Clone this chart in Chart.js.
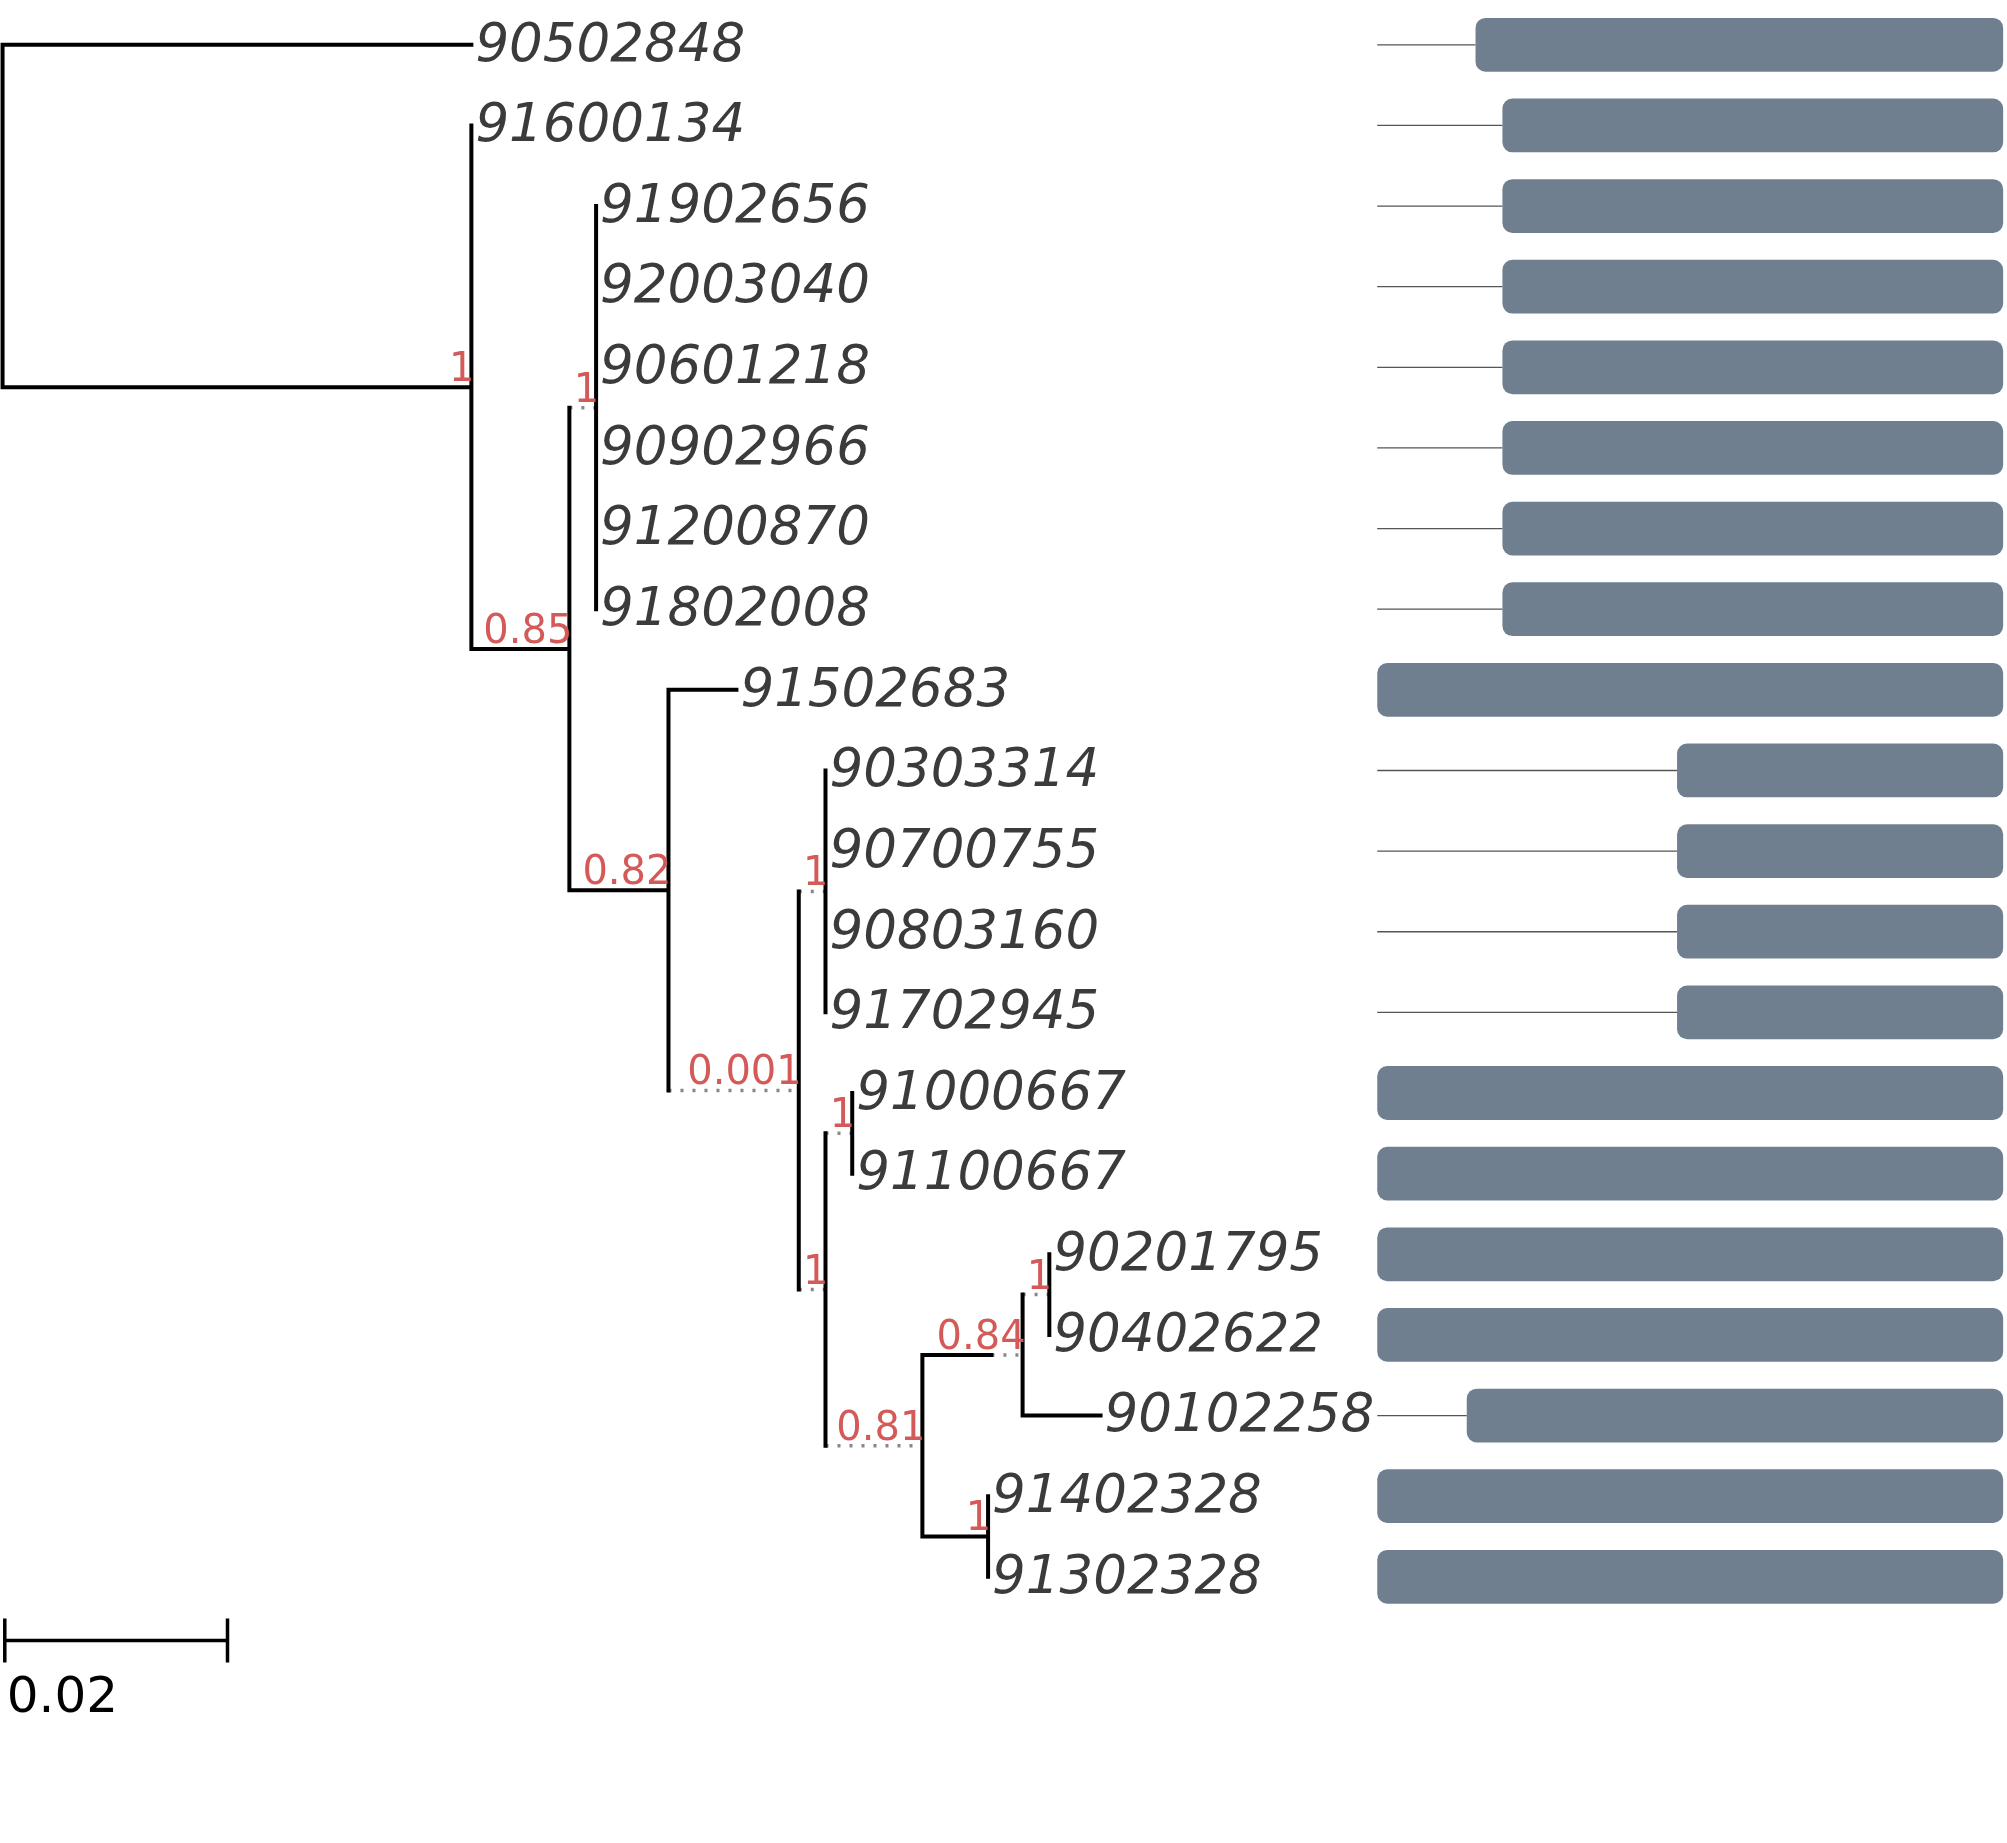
<!DOCTYPE html>
<html>
<head>
<meta charset="utf-8">
<script src="https://cdn.jsdelivr.net/npm/chart.js@4.4.1/dist/chart.umd.min.js"></script>
<style>
  html, body { margin: 0; padding: 0; background: #fff; }
  #wrap { width: 2007px; height: 1843px; }
</style>
</head>
<body>
<div id="wrap"><canvas id="tree" width="2007" height="1843"></canvas></div>
<script>
// ---- tree data ----
// internal nodes: id, parent, distance from root, support, where the dotted part starts
const nodeIds      = ['root', 'A', 'B', 'C', 'D', 'E', 'F', 'G', 'H', 'I', 'J', 'K', 'L'];
const nodeParent   = [null, 'root', 'A', 'B', 'B', 'D', 'E', 'E', 'G', 'G', 'I', 'J', 'I'];
const nodeDist     = [0, 0.0421, 0.0509, 0.0533, 0.0598, 0.0715, 0.0739, 0.0739, 0.0763, 0.0826, 0.0916, 0.0940, 0.0885];
const nodeSupport  = ['', '1', '0.85', '1', '0.82', '0.001', '1', '1', '1', '0.81', '0.84', '1', '1'];
const nodeDotFrom  = [null, null, null, 0.0509, null, 0.0598, 0.0715, 0.0715, 0.0739, 0.0739, 0.0888, 0.0916, null];

// leaves in row order
const leafNames  = ['90502848', '91600134', '91902656', '92003040', '90601218', '90902966', '91200870',
                    '91802008', '91502683', '90303314', '90700755', '90803160', '91702945', '91000667',
                    '91100667', '90201795', '90402622', '90102258', '91402328', '91302328'];
const leafParent = ['root', 'A', 'C', 'C', 'C', 'C', 'C', 'C', 'D', 'F', 'F', 'F', 'F', 'H', 'H', 'K', 'K', 'J', 'L', 'L'];
const leafDist   = [0.0421, 0.0421, 0.0533, 0.0533, 0.0533, 0.0533, 0.0533, 0.0533, 0.0659, 0.0739, 0.0739,
                    0.0739, 0.0739, 0.0763, 0.0763, 0.0940, 0.0940, 0.0986, 0.0885, 0.0885];
// bar panel values (fraction of full length)
const barValues  = [0.843, 0.800, 0.800, 0.800, 0.800, 0.800, 0.800, 0.800, 1, 0.521, 0.521, 0.521, 0.521,
                    1, 1, 1, 1, 0.857, 1, 1];

const scaleBarLength = 0.02;
const scaleBarLabel = '0.02';

// ---- build geometry ----
const S = 2007 / 1568;
const nodeY = {};
const nodeX = {};
nodeIds.forEach((id, i) => nodeX[id] = nodeDist[i]);

function childYs(id) {
  const ys = [];
  leafParent.forEach((p, r) => { if (p === id) ys.push(r); });
  nodeIds.forEach((n, i) => { if (nodeParent[i] === id) ys.push(getY(n)); });
  return ys;
}
function getY(id) {
  if (nodeY[id] !== undefined) return nodeY[id];
  const ys = childYs(id);
  nodeY[id] = (Math.min(...ys) + Math.max(...ys)) / 2;
  return nodeY[id];
}
nodeIds.forEach(getY);

const solid = [], dotted = [];
function seg(arr, x1, y1, x2, y2) {
  arr.push({x: x1, y: y1}, {x: x2, y: y2}, {x: x2, y: null});
}
// verticals
nodeIds.forEach(id => {
  const ys = childYs(id);
  seg(solid, nodeX[id], Math.min(...ys), nodeX[id], Math.max(...ys));
});
// horizontals to internal nodes
nodeIds.forEach((id, i) => {
  const p = nodeParent[i];
  if (!p) return;
  const px = nodeX[p], x = nodeDist[i], y = nodeY[id], df = nodeDotFrom[i];
  if (df === null) { seg(solid, px, y, x, y); }
  else {
    if (df > px) seg(solid, px, y, df, y);
    seg(dotted, df, y, x, y);
  }
});
// horizontals to leaves
leafNames.forEach((n, r) => {
  const px = nodeX[leafParent[r]];
  if (leafDist[r] > px) seg(solid, px, r, leafDist[r], r);
});

const treeText = {
  id: 'treeText',
  afterDatasetsDraw(chart) {
    const ctx = chart.ctx, x = chart.scales.x, y = chart.scales.y, b = chart.scales.x2;
    ctx.save();
    // bar panel
    leafNames.forEach((n, r) => {
      const py = y.getPixelForValue(r);
      const start = b.getPixelForValue(1 - barValues[r]);
      const end = b.getPixelForValue(1);
      ctx.strokeStyle = '#555';
      ctx.lineWidth = 1.3;
      if (barValues[r] < 1) {
        ctx.beginPath(); ctx.moveTo(b.getPixelForValue(0), py); ctx.lineTo(start, py); ctx.stroke();
      }
      const h = 42 * S;
      ctx.fillStyle = '#6f7f8f';
      ctx.beginPath();
      ctx.roundRect(start, py - h / 2, end - start, h, 10);
      ctx.fill();
    });
    // leaf labels
    ctx.fillStyle = '#3b3b3b';
    ctx.font = 'italic 53px "DejaVu Sans"';
    ctx.textAlign = 'left';
    ctx.textBaseline = 'middle';
    leafNames.forEach((n, r) => {
      ctx.fillText(n, x.getPixelForValue(leafDist[r]) + 4, y.getPixelForValue(r) + 2);
    });
    // support values
    ctx.fillStyle = '#d45a5a';
    ctx.font = '40px "DejaVu Sans"';
    ctx.textAlign = 'right';
    ctx.textBaseline = 'alphabetic';
    nodeIds.forEach((id, i) => {
      if (!nodeSupport[i]) return;
      ctx.fillText(nodeSupport[i], x.getPixelForValue(nodeDist[i]) + 3, y.getPixelForValue(nodeY[id]) - 6);
    });
    // scale bar
    const sy = y.getPixelForValue(19.79);
    const sx1 = x.getPixelForValue(0.0002), sx2 = x.getPixelForValue(0.0002 + scaleBarLength);
    ctx.strokeStyle = '#000';
    ctx.lineWidth = 3.5;
    ctx.beginPath();
    ctx.moveTo(sx1, sy); ctx.lineTo(sx2, sy);
    ctx.moveTo(sx1, sy - 22); ctx.lineTo(sx1, sy + 22);
    ctx.moveTo(sx2, sy - 22); ctx.lineTo(sx2, sy + 22);
    ctx.stroke();
    ctx.fillStyle = '#000';
    ctx.font = '50px "DejaVu Sans"';
    ctx.textAlign = 'left';
    ctx.textBaseline = 'middle';
    ctx.fillText(scaleBarLabel, sx1 + 2, y.getPixelForValue(20.52));
    ctx.restore();
  }
};

new Chart(document.getElementById('tree').getContext('2d'), {
  type: 'scatter',
  data: {
    datasets: [
      { data: solid, showLine: true, spanGaps: false, borderColor: '#000', borderWidth: 4,
        pointRadius: 0, borderCapStyle: 'square', borderJoinStyle: 'miter' },
      { data: dotted, showLine: true, spanGaps: false, borderColor: '#888', borderWidth: 3.5,
        borderDash: [3, 9], pointRadius: 0 }
    ]
  },
  options: {
    responsive: false,
    animation: false,
    devicePixelRatio: 1,
    layout: { padding: 0 },
    plugins: { legend: { display: false }, tooltip: { enabled: false } },
    scales: {
      x: { type: 'linear', display: false, min: -2 / 8700, max: 1566 / 8700 },
      x2: { type: 'linear', display: false, min: -1076 / 489, max: (1568 - 1076) / 489 },
      y: { type: 'linear', display: false, reverse: true, min: -35 / 63, max: (1440 - 35) / 63 }
    }
  },
  plugins: [treeText]
});
</script>
</body>
</html>
